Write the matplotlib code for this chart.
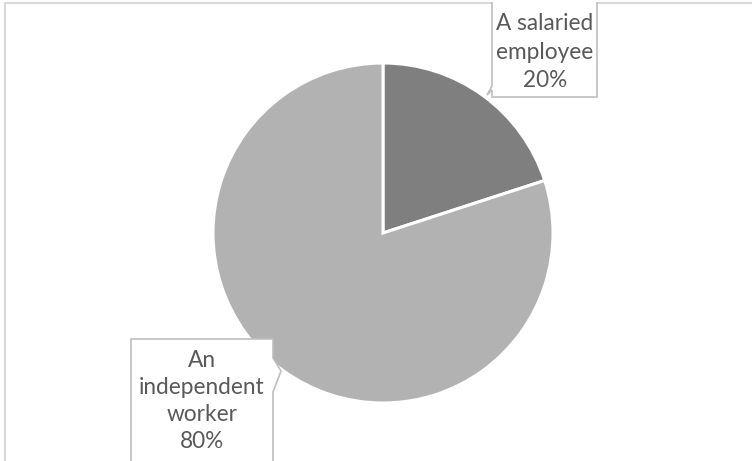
import matplotlib.pyplot as plt
from matplotlib.patches import Polygon

categories = ["A salaried\nemployee", "An\nindependent\nworker"]
shares = [20, 80]
colors = ["#7f7f7f", "#b2b2b2"]

W, H = 752, 461
plt.rcParams["font.family"] = ["Lato", "DejaVu Sans"]

fig = plt.figure(figsize=(W / 100, H / 100), dpi=100)
ax = fig.add_axes([0, 0, 1, 1])

ax.pie(shares, colors=colors, startangle=90, counterclock=False,
       center=(383, H - 233), radius=170,
       wedgeprops=dict(edgecolor="white", linewidth=2.2))

ax.set_xlim(0, W)
ax.set_ylim(0, H)
ax.set_aspect("equal")
ax.axis("off")

# chart area border (only top and left show)
ax.plot([4.5, 4.5, W], [0, H - 2.5, H - 2.5], color="#d9d9d9", lw=1.5,
        solid_capstyle="butt")

# callout boxes with their pointers
box_edge = "#bfbfbf"
callouts = [
    [(492, H - 2), (492, H - 86), (487, H - 95), (492, H - 90),
     (492, H - 97), (597, H - 97), (597, H - 2)],
    [(273, -5), (273, H - 392), (281, H - 371), (273, H - 358),
     (273, H - 339), (131, H - 339), (131, -5)],
]
for pts in callouts:
    ax.add_patch(Polygon(pts, closed=False, facecolor="white",
                         edgecolor=box_edge, lw=1.2, zorder=3))

label_pos = [(545, 30, 28.5), (202, 367, 27)]
for cat, share, (cx, base, step) in zip(categories, shares, label_pos):
    lines = cat.split("\n") + [f"{share}%"]
    for i, line in enumerate(lines):
        ax.text(cx, H - (base + i * step), line, ha="center", va="baseline",
                fontsize=16.3, color="#595959", zorder=4)

fig.savefig("out.png", dpi=100)
